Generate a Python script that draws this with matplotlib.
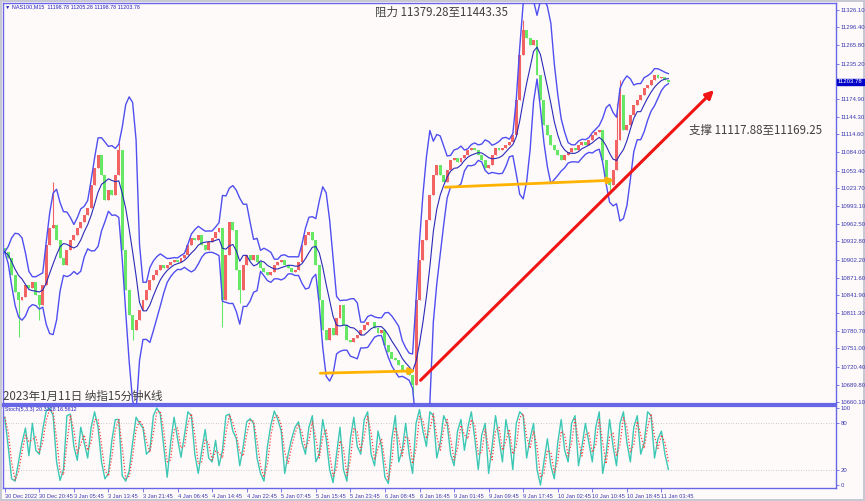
import numpy as np
import pandas as pd
import matplotlib
matplotlib.use("Agg")
import matplotlib.pyplot as plt

# ---------------- data ----------------
first_open = 10921.7
closes = [
    10914.9, 10904.7, 10875.9, 10847.0, 10833.4, 10838.5, 10858.9, 10853.8, 10864.0, 10841.9,
    10824.9, 10858.9, 10926.8, 10955.7, 10960.8, 10935.3, 10904.7, 10892.9, 10918.3, 10935.3,
    10943.9, 10955.7, 10965.9, 10977.8, 10989.7, 11028.8, 11057.7, 11079.8, 11045.8, 11003.3,
    11020.3, 11011.8, 11045.8, 11088.3, 10918.3, 10850.4, 10807.9, 10782.4, 10799.4, 10816.4,
    10833.4, 10850.4, 10867.4, 10875.9, 10884.4, 10892.9, 10887.8, 10892.9, 10898.0, 10901.4,
    10898.0, 10904.7, 10909.8, 10926.8, 10938.8, 10935.3, 10943.9, 10926.8, 10918.3, 10931.9,
    10938.8, 10949.0, 10955.7, 10833.4, 10909.8, 10965.9, 10952.4, 10884.4, 10850.4, 10892.9,
    10909.8, 10901.4, 10909.8, 10898.0, 10887.8, 10881.0, 10875.9, 10881.0, 10892.9, 10898.0,
    10901.4, 10892.9, 10887.8, 10881.0, 10884.4, 10898.0, 10926.8, 10943.9, 10949.0, 10935.3,
    10892.9, 10833.4, 10782.4, 10765.4, 10785.8, 10773.9, 10802.8, 10824.9, 10790.9, 10765.4,
    10762.0, 10768.8, 10773.9, 10782.4, 10790.9, 10796.0, 10796.0, 10785.8, 10777.3, 10782.4,
    10756.9, 10745.0, 10734.7, 10731.4, 10722.9, 10714.4, 10711.0, 10705.9, 10688.9, 10833.4,
    10901.4, 10935.3, 10969.3, 11011.8, 11045.8, 11062.8, 11045.8, 11033.9, 11054.3, 11071.3,
    11074.7, 11067.9, 11074.7, 11079.8, 11088.3, 11091.6, 11088.3, 11079.8, 11071.3, 11057.7,
    11062.8, 11079.8, 11091.6, 11088.3, 11091.6, 11096.7, 11101.8, 11113.7, 11173.2, 11249.7,
    11292.1, 11278.5, 11266.6, 11275.1, 11215.7, 11173.2, 11130.7, 11113.7, 11096.7, 11088.3,
    11079.8, 11071.3, 11079.8, 11084.8, 11091.6, 11088.3, 11096.7, 11101.8, 11096.7, 11105.2,
    11113.7, 11118.8, 11122.2, 11071.3, 11040.7, 11028.8, 11054.3, 11105.2, 11181.7, 11122.2,
    11130.7, 11147.7, 11164.7, 11173.2, 11181.7, 11193.6, 11198.7, 11207.2, 11215.7, 11210.6,
    11212.3, 11207.2, 11203.78,
]
wick_highs = {14: 11033.9, 33: 11100.1, 150: 11309.1, 177: 11168.1, 178: 11207.2}
wick_lows = {4: 10770.5, 10: 10799.4, 37: 10765.4, 63: 10787.5, 68: 10828.3,
             118: 10663.5, 175: 11020.3}

# Stochastic main line (%K)
stoch_k = [
    88, 50, 8, 5, 30, 55, 74, 38, 80, 45, 40, 72, 96, 100, 90, 30, 6, 20, 90, 92,
    50, 32, 75, 55, 35, 75, 95, 75, 30, 8, 15, 58, 85, 85, 12, 5, 18, 55, 88, 80,
    74, 40, 45, 90, 100, 92, 50, 10, 55, 88, 60, 36, 65, 95, 90, 40, 15, 45, 72, 35,
    30, 58, 25, 45, 90, 92, 70, 60, 25, 50, 82, 86, 80, 35, 15, 5, 50, 78, 96, 85,
    70, 15, 40, 60, 75, 82, 55, 40, 75, 90, 30, 40, 85, 60, 20, 3, 40, 75, 20, 5,
    60, 88, 50, 40, 85, 95, 40, 25, 70, 50, 10, 2, 60, 90, 30, 45, 80, 40, 15, 80,
    98, 70, 50, 95, 90, 35, 55, 90, 80, 40, 25, 70, 85, 45, 75, 95, 60, 20, 65, 80,
    15, 50, 90, 60, 30, 85, 60, 20, 80, 95, 90, 35, 60, 80, 20, 0, 30, 60, 25, 8,
    55, 85, 45, 30, 80, 90, 25, 50, 80, 55, 30, 75, 95, 15, 40, 85, 50, 25, 80, 95,
    55, 30, 75, 90, 40, 55, 95, 90, 35, 60, 70, 40, 20.33,
]

x_labels = ["30 Dec 2022", "30 Dec 20:45", "3 Jan 05:45", "3 Jan 13:45", "3 Jan 21:45",
            "4 Jan 06:45", "4 Jan 14:45", "4 Jan 22:45", "5 Jan 07:45", "5 Jan 15:45",
            "5 Jan 23:45", "6 Jan 08:45", "6 Jan 16:45", "9 Jan 01:45", "9 Jan 09:45",
            "9 Jan 17:45", "10 Jan 02:45", "10 Jan 10:45", "10 Jan 18:45", "11 Jan 03:45"]
price_ticks = [11326.10, 11296.40, 11265.80, 11235.20, 11174.90, 11144.30, 11114.60,
               11084.00, 11053.40, 11023.70, 10993.10, 10962.50, 10932.80, 10902.20,
               10871.60, 10841.90, 10811.30, 10780.70, 10751.00, 10720.40, 10689.80,
               10660.10]
stoch_ticks = [0, 20, 80, 100]
last_price = 11203.78
header = "NAS100,M15  11198.78 11205.28 11198.78 11203.78"
stoch_header = "Stoch(5,3,3) 20.3328 16.5612"

# arrows (bar index, price)
orange_arrow_1 = [(91.3, 10709.0), (118.9, 10713.0)]
orange_arrow_2 = [(127.5, 11025.0), (176.3, 11037.0)]
red_arrow = [(120.3, 10697.0), (205.2, 11190.0)]

# ---------------- derived ----------------
closes = np.array(closes)
n = len(closes)
idx = np.arange(n)
opens = np.concatenate([[first_open], closes[:-1]])
highs = np.maximum(opens, closes)
lows = np.minimum(opens, closes)
for k, v in wick_highs.items():
    highs[k] = max(highs[k], v)
for k, v in wick_lows.items():
    lows[k] = min(lows[k], v)

s = pd.Series(closes)
mid = s.rolling(6, min_periods=1).mean()
sd = s.rolling(6, min_periods=2).std(ddof=1).fillna(0)
upper = mid + 2 * sd
lower = mid - 2 * sd

k_line = pd.Series(stoch_k, dtype=float)
d_line = k_line.rolling(2, min_periods=1).mean()

# ---------------- drawing ----------------
W, H = 865, 501
BG = "#FFFAFA"
AX = "#6666E6"
TXT = "#3A3AB0"
TICKFONT = "Liberation Sans"
fig = plt.figure(figsize=(W / 100, H / 100), dpi=100, facecolor=BG)
fig.patch.set_edgecolor("#C8C8D4")
fig.patch.set_linewidth(1.5)

ax = fig.add_axes([3 / W, 1 - 404 / H, 833 / W, 401 / H], facecolor=BG)
ax2 = fig.add_axes([3 / W, 1 - 488 / H, 833 / W, 82.5 / H], facecolor=BG)
for a in (ax, ax2):
    a.set_xlim(-0.5, 240.5)
    for sp in a.spines.values():
        sp.set_color(AX)
        sp.set_linewidth(1.0)
ax.spines["bottom"].set_linewidth(1.6)
ax2.spines["top"].set_linewidth(1.6)

ax.set_ylim(10656.7, 11338.0)
ax2.set_ylim(-3.9, 103.2)

up = closes >= opens
col = np.where(up, "#F26464", "#66E866")
ax.vlines(idx, lows, highs, colors=col, linewidth=0.8, zorder=2)
ax.bar(idx, np.abs(closes - opens) + 1.5, bottom=np.minimum(opens, closes) - 0.75,
       width=0.85, color=col, linewidth=0, zorder=2)

ax.plot(idx, upper, color="#4F4FF0", lw=1.0, zorder=3)
ax.plot(idx, lower, color="#4F4FF0", lw=1.0, zorder=3)
ax.plot(idx, mid, color="#2A2AB8", lw=0.8, zorder=3)

for arr, c, lw, ms in ((orange_arrow_1, "#FFB300", 2.0, 9),
                       (orange_arrow_2, "#FFB300", 2.0, 9),
                       (red_arrow, "#F01414", 2.2, 12)):
    ax.annotate("", xy=arr[1], xytext=arr[0],
                arrowprops=dict(arrowstyle="-|>", color=c, lw=lw, mutation_scale=ms,
                                shrinkA=0, shrinkB=0), zorder=5)

ax.yaxis.tick_right()
ax.set_yticks(price_ticks)
ax.set_yticklabels([f"{v:.2f}" for v in price_ticks], family=TICKFONT)
ax.tick_params(axis="y", labelsize=4.3, labelcolor=TXT, color=AX, length=2,
               width=0.6, pad=1.5)
ax.set_xticks([])

ax2.plot(idx, k_line, color="#3CC8B4", lw=1.0, zorder=3)
ax2.plot(idx, d_line, color="#FF3C3C", lw=0.9, ls=(0, (1, 1.5)), zorder=4)
for lvl in (20, 80):
    ax2.axhline(lvl, color="#BBBBBB", lw=0.6, ls=(0, (1, 2)), zorder=1)
ax2.yaxis.tick_right()
ax2.set_yticks(stoch_ticks)
ax2.set_yticklabels([str(v) for v in stoch_ticks], family=TICKFONT)
ax2.tick_params(axis="y", labelsize=4.3, labelcolor=TXT, color=AX, length=2,
                width=0.6, pad=1.5)
ax2.set_xticks(np.arange(len(x_labels)) * 10)
ax2.set_xticklabels(x_labels, ha="left", family=TICKFONT)
ax2.tick_params(axis="x", labelsize=4.1, labelcolor=TXT, color=AX, length=3,
                width=0.6, pad=1.5)

cjk = ["Noto Sans CJK SC", "DejaVu Sans"]
fig.text(375 / W, 1 - 12 / H, "阻力 11379.28至11443.35", family=cjk, fontsize=8.3,
         color="#404040", va="center", ha="left")
fig.text(689 / W, 1 - 130 / H, "支撑 11117.88至11169.25", family=cjk, fontsize=8.3,
         color="#404040", va="center", ha="left")
fig.text(3 / W, 1 - 396 / H, "2023年1月11日 纳指15分钟K线", family=cjk, fontsize=8.3,
         color="#404040", va="center", ha="left", zorder=10)
fig.text(5 / W, 1 - 7 / H, "▼ " + header, fontsize=3.9, color="#2020C0",
         va="center", ha="left", family=["Liberation Sans", "DejaVu Sans"])
fig.text(5 / W, 1 - 410 / H, stoch_header, fontsize=3.9, color="#2020C0",
         va="center", ha="left", family=TICKFONT)

yfrac = 1 - (404 - (last_price - 10656.7) / (11338.0 - 10656.7) * 401) / H
fig.text(838 / W, yfrac, f"{last_price:.2f}", fontsize=4.3, color="white",
         va="center", ha="left", family=TICKFONT,
         bbox=dict(boxstyle="square,pad=0.15", fc="#0000C8", ec="#0000C8"))

fig.savefig("out.png", dpi=100, facecolor=BG, edgecolor=fig.patch.get_edgecolor())
